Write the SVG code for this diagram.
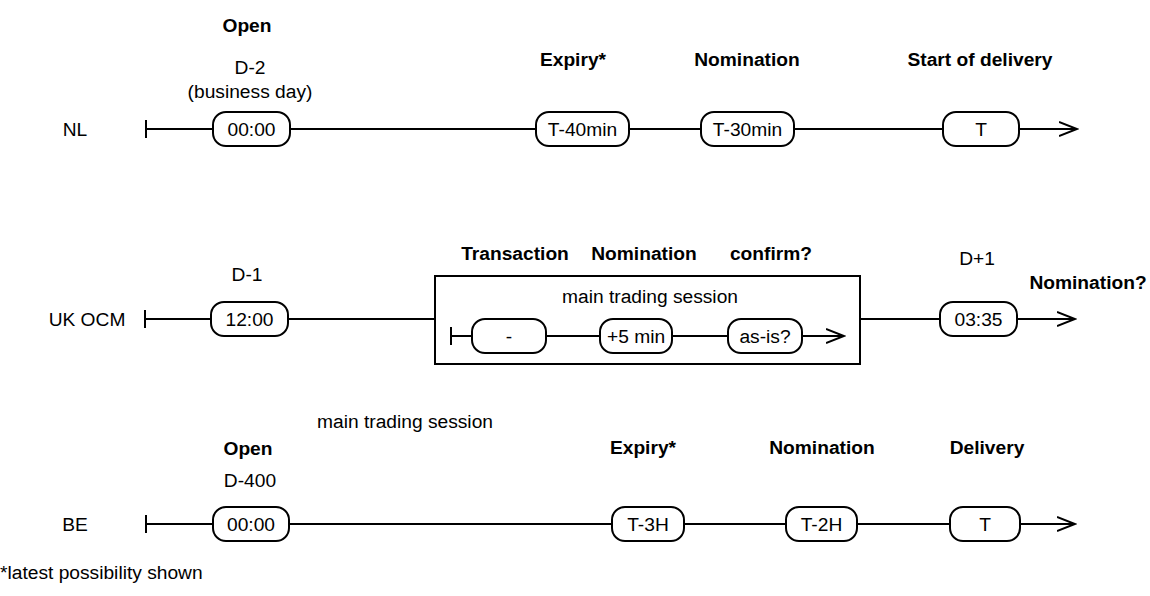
<svg xmlns="http://www.w3.org/2000/svg" width="1150" height="596" viewBox="0 0 1150 596">
<style>
text{font-family:"Liberation Sans",Arial,sans-serif;font-size:19.2px;fill:#000}
.b{font-weight:bold}
.m{text-anchor:middle}
.box{fill:#fff;stroke:#000;stroke-width:2}
.ln{stroke:#000;stroke-width:2;fill:none}
</style>
<defs>
<marker id="arr" markerWidth="20" markerHeight="16" refX="18" refY="8" orient="auto" markerUnits="userSpaceOnUse">
<path d="M0,1 L18,8 L0,15" fill="none" stroke="#000" stroke-width="2"/>
</marker>
</defs>
<rect width="1150" height="596" fill="#fff"/>
<g id="connectors">
<path class="ln" d="M146,120 V138 M146,129 H213 M290,129 H536 M629,129 H701 M794,129 H943"/>
<path class="ln" d="M1019,129 H1077" marker-end="url(#arr)"/>
<path class="ln" d="M145,310 V328 M145,319 H211 M288,319 H435 M860,319 H940"/>
<path class="ln" d="M1017,319 H1075" marker-end="url(#arr)"/>
<path class="ln" d="M451,327 V345 M451,336 H472 M546,336 H600 M672,336 H728"/>
<path class="ln" d="M802,336 H844" marker-end="url(#arr)"/>
<path class="ln" d="M146,515 V533 M146,524 H213 M289,524 H612 M684,524 H786 M857,524 H950"/>
<path class="ln" d="M1020,524 H1075" marker-end="url(#arr)"/>
</g>
<g id="nl">
<text x="75" y="136" class="m">NL</text>
<text x="247" y="32" class="m b">Open</text>
<text x="250" y="74" class="m">D-2</text>
<text x="250" y="98" class="m">(business day)</text>
<text x="573" y="66" class="m b">Expiry*</text>
<text x="747" y="66" class="m b">Nomination</text>
<text x="980" y="66" class="m b">Start of delivery</text>
<g id="nl-open"><rect class="box" x="213" y="112" width="77" height="34" rx="13"/><text x="251.5" y="136" class="m">00:00</text></g>
<g id="nl-expiry"><rect class="box" x="536" y="112" width="93" height="34" rx="13"/><text x="582.5" y="136" class="m">T-40min</text></g>
<g id="nl-nom"><rect class="box" x="701" y="112" width="93" height="34" rx="13"/><text x="747.5" y="136" class="m">T-30min</text></g>
<g id="nl-del"><rect class="box" x="943" y="112" width="76" height="34" rx="13"/><text x="981" y="136" class="m">T</text></g>
</g>
<g id="uk">
<text x="87" y="326" class="m">UK OCM</text>
<text x="247" y="281" class="m">D-1</text>
<text x="515" y="260" class="m b">Transaction</text>
<text x="644" y="260" class="m b">Nomination</text>
<text x="771" y="260" class="m b">confirm?</text>
<text x="977" y="265" class="m">D+1</text>
<text x="1088" y="289" class="m b">Nomination?</text>
<g id="uk-open"><rect class="box" x="211" y="302" width="77" height="34" rx="13"/><text x="249.5" y="326" class="m">12:00</text></g>
<g id="uk-session"><rect x="435" y="276" width="425" height="88" fill="none" stroke="#000" stroke-width="2"/><text x="650" y="303" class="m">main trading session</text></g>
<g id="uk-tx"><rect class="box" x="472" y="319" width="74" height="34" rx="13"/><text x="509" y="343" class="m">-</text></g>
<g id="uk-nom"><rect class="box" x="600" y="319" width="72" height="34" rx="13"/><text x="636" y="343" class="m">+5 min</text></g>
<g id="uk-conf"><rect class="box" x="728" y="319" width="74" height="34" rx="13"/><text x="765" y="343" class="m">as-is?</text></g>
<g id="uk-del"><rect class="box" x="940" y="302" width="77" height="34" rx="13"/><text x="978.5" y="326" class="m">03:35</text></g>
</g>
<g id="be">
<text x="75" y="531" class="m">BE</text>
<text x="317" y="428">main trading session</text>
<text x="248" y="455" class="m b">Open</text>
<text x="250" y="487" class="m">D-400</text>
<text x="643" y="454" class="m b">Expiry*</text>
<text x="822" y="454" class="m b">Nomination</text>
<text x="987" y="454" class="m b">Delivery</text>
<g id="be-open"><rect class="box" x="213" y="507" width="76" height="34" rx="13"/><text x="251" y="531" class="m">00:00</text></g>
<g id="be-expiry"><rect class="box" x="612" y="507" width="72" height="34" rx="13"/><text x="648" y="531" class="m">T-3H</text></g>
<g id="be-nom"><rect class="box" x="786" y="507" width="71" height="34" rx="13"/><text x="821.5" y="531" class="m">T-2H</text></g>
<g id="be-del"><rect class="box" x="950" y="507" width="70" height="34" rx="13"/><text x="985" y="531" class="m">T</text></g>
</g>
<text id="footnote" x="0" y="579">*latest possibility shown</text>
</svg>
